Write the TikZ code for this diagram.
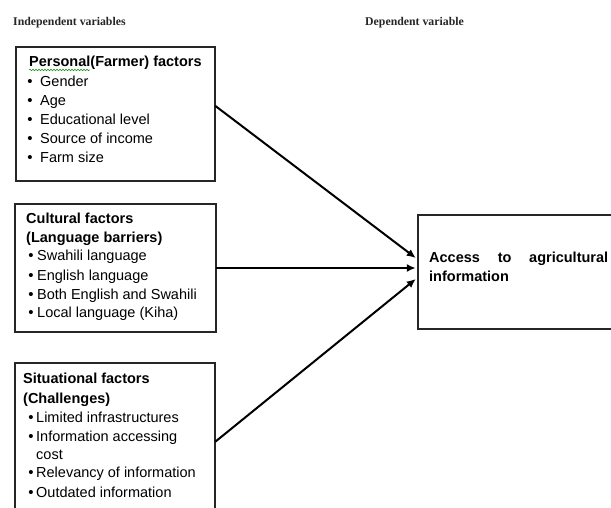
\documentclass[tikz,border=0pt]{standalone}
\usepackage{fontspec}
\setmainfont{Liberation Sans}
\newfontfamily\serifhead{Liberation Serif}
\usetikzlibrary{arrows.meta,decorations.pathmorphing,calc}
\begin{document}
\begin{tikzpicture}[x=1pt,y=-1pt,
  box/.style={draw=black!85,line width=1.4pt,inner sep=0pt},
  txt/.style={anchor=base west,inner sep=0pt,font=\fontsize{14.5}{19}\selectfont},
  ttl/.style={txt,font=\fontsize{14.5}{19}\selectfont\bfseries},
  blt/.style={anchor=base,inner sep=0pt,font=\fontsize{15}{19}\selectfont},
  head/.style={anchor=base west,inner sep=0pt,font=\fontsize{11.8}{13}\selectfont\serifhead\bfseries,text=black!85},
  conn/.style={line width=2pt,-{Latex[length=9pt,width=8pt]}}]
\useasboundingbox (0,0) rectangle (611,508);
% headers
\node[head] (h1) at (13,26) {Independent variables};
\node[head] (h2) at (365,26) {Dependent variable};
% boxes
\draw[box] (16,47) rectangle (215,181);
\node[inner sep=0pt,minimum width=199pt,minimum height=134pt] (b1) at (115.5,114) {};
\draw[box] (15,204) rectangle (216,332);
\node[inner sep=0pt,minimum width=201pt,minimum height=128pt] (b2) at (115.5,268) {};
\draw[box] (15,515) -- (15,363) -- (215,363) -- (215,515);
\node[inner sep=0pt,minimum width=200pt,minimum height=152pt] (b3) at (115,439) {};
\draw[box] (625,215) -- (418,215) -- (418,329) -- (625,329);
\node[inner sep=0pt,minimum width=207pt,minimum height=114pt] (b4) at (521.5,272) {};
% box 1 text
\node[ttl] (t1) at (29,67) {Personal(Farmer) factors};
\draw[green!55!black,line width=0.5pt,decorate,decoration={snake,amplitude=0.7pt,segment length=3pt}] (29,70) -- (90,70);
\foreach \y/\s [count=\i] in {87/Gender,106/Age,125/Educational level,144/Source of income,163/Farm size}{
  \node[blt] (u\i) at (30,\y) {•};
  \node[txt] (a\i) at (40,\y) {\s};
}
% box 2 text
\node[ttl] (t2a) at (26,223) {Cultural factors};
\node[ttl] (t2b) at (26,243) {(Language barriers)};
\foreach \y/\s [count=\i] in {261/Swahili language,280/English language,299/Both English and Swahili,317/Local language (Kiha)}{
  \node[blt] (v\i) at (31,\y) {•};
  \node[txt] (c\i) at (37,\y) {\s};
}
% box 3 text
\node[ttl] (t3a) at (23,383) {Situational factors};
\node[ttl] (t3b) at (23,403) {(Challenges)};
\foreach \y/\s [count=\i] in {422/Limited infrastructures,441/Information accessing,477/Relevancy of information,497/Outdated information}{
  \node[blt] (w\i) at (31,\y) {•};
  \node[txt] (s\i) at (36,\y) {\s};
}
\node[txt] (s5) at (36,459) {cost};
% right box text
\node[ttl,text width=179pt,align=left] (r1) at (429,262) {\hbox to 179pt{Access\hfill to\hfill agricultural}\\information};
% connectors
\coordinate (e1) at ($(b1.north east)+(0,59)$);
\coordinate (e3) at ($(b3.north east)+(0,79)$);
\coordinate (f1) at ($(b4.west)+(-2,-14)$);
\coordinate (f2) at ($(b4.west)+(-2,-3)$);
\coordinate (f3) at ($(b4.west)+(-2,7)$);
\draw[conn] (e1) -- (f1);
\draw[conn] (b2.east) -- (b2.east -| f2);
\draw[conn] (e3) -- (f3);
\end{tikzpicture}
\end{document}
